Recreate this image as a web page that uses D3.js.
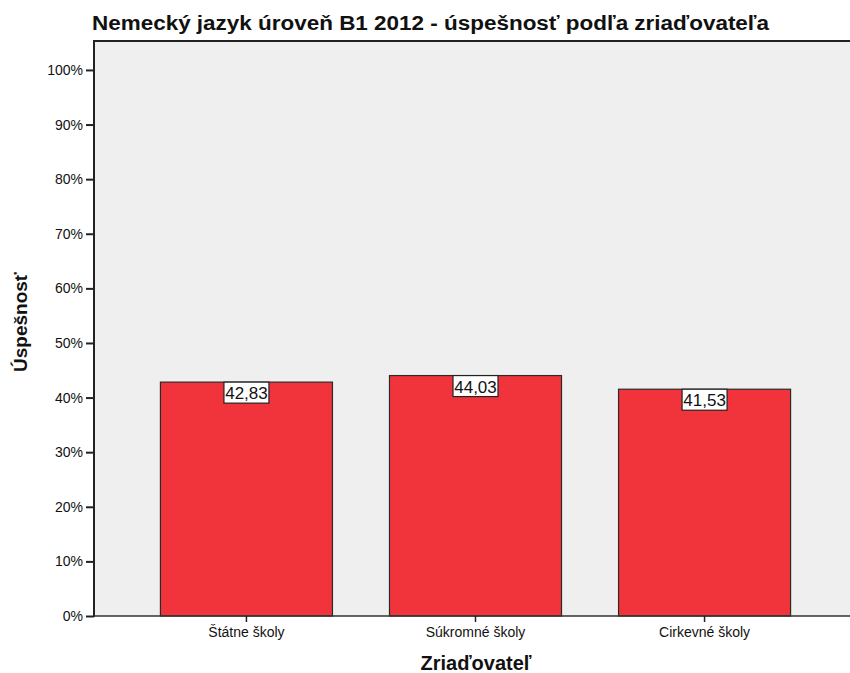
<!DOCTYPE html>
<html>
<head>
<meta charset="utf-8">
<script src="https://cdn.jsdelivr.net/npm/d3@7"></script>
<style>
  html, body { margin: 0; padding: 0; background: #fff; }
  svg { display: block; font-family: "Liberation Sans", Arial, sans-serif; }
</style>
</head>
<body>
<svg id="chart" width="850" height="673"></svg>
<script>
// Success rate by school founder
const categories = ["Štátne školy", "Súkromné školy", "Cirkevné školy"];
const values = [42.83, 44.03, 41.53];
const yTicks = [0, 10, 20, 30, 40, 50, 60, 70, 80, 90, 100];
const titleText = "Nemecký jazyk úroveň B1 2012 - úspešnosť podľa zriaďovateľa";
const yTitle = "Úspešnosť";
const xTitle = "Zriaďovateľ";

const svg = d3.select("#chart");
const W = 850, H = 673;
const plot = { left: 94, top: 41, right: 857, bottom: 616 };

// background panel
svg.append("rect")
  .attr("x", plot.left).attr("y", plot.top)
  .attr("width", W - plot.left).attr("height", plot.bottom - plot.top)
  .attr("fill", "#efefef");

const y = d3.scaleLinear().domain([0, 105.3]).range([plot.bottom, plot.top]);
const x = d3.scaleBand().domain(categories)
  .range([plot.left, plot.right])
  .paddingInner(0.249).paddingOuter(0.29);

// bars
svg.append("g").selectAll("rect").data(values).join("rect")
  .attr("x", (d, i) => x(categories[i]))
  .attr("y", d => y(d))
  .attr("width", x.bandwidth())
  .attr("height", d => plot.bottom - y(d))
  .attr("fill", "#f1343c")
  .attr("stroke", "#2a2a2a")
  .attr("stroke-width", 1.2);

// frame lines: top, left, bottom
svg.append("line").attr("x1", plot.left).attr("x2", W).attr("y1", plot.top).attr("y2", plot.top)
  .attr("stroke", "#222").attr("stroke-width", 2);
svg.append("line").attr("x1", plot.left).attr("x2", plot.left).attr("y1", plot.top - 1).attr("y2", plot.bottom + 1)
  .attr("stroke", "#222").attr("stroke-width", 2);
svg.append("line").attr("x1", plot.left).attr("x2", W).attr("y1", plot.bottom).attr("y2", plot.bottom)
  .attr("stroke", "#333").attr("stroke-width", 1.6);

// y axis
const yAxis = d3.axisLeft(y).tickValues(yTicks).tickSize(8).tickPadding(3)
  .tickFormat(d => d + "%");
const gy = svg.append("g").attr("transform", `translate(${plot.left},0)`).call(yAxis);
gy.select(".domain").remove();
gy.selectAll(".tick line").attr("stroke", "#222").attr("stroke-width", 2);
gy.selectAll(".tick text").attr("font-size", 14).attr("fill", "#111")
  .attr("font-family", "Liberation Sans, Arial, sans-serif");

// x axis
const xAxis = d3.axisBottom(x).tickSize(6).tickPadding(5);
const gx = svg.append("g").attr("transform", `translate(0,${plot.bottom})`).call(xAxis);
gx.select(".domain").remove();
gx.selectAll(".tick line").attr("stroke", "#222").attr("stroke-width", 1.5);
gx.selectAll(".tick text").attr("font-size", 14).attr("fill", "#111")
  .attr("font-family", "Liberation Sans, Arial, sans-serif");

// value labels
const labels = svg.append("g").selectAll("g").data(values).join("g")
  .attr("transform", (d, i) => `translate(${x(categories[i]) + x.bandwidth() / 2},${y(d)})`);
labels.append("rect")
  .attr("x", -22.5).attr("y", 0).attr("width", 45).attr("height", 21)
  .attr("fill", "#fff").attr("stroke", "#222").attr("stroke-width", 1.2);
labels.append("text")
  .attr("text-anchor", "middle").attr("y", 17)
  .attr("font-size", 17).attr("fill", "#111")
  .text(d => d.toFixed(2).replace(".", ","));

// titles
svg.append("text").attr("x", 92).attr("y", 30)
  .attr("font-size", 20).attr("font-weight", "bold").attr("fill", "#111")
  .attr("textLength", 677).attr("lengthAdjust", "spacingAndGlyphs")
  .text(titleText);
svg.append("text").attr("transform", `translate(27,322) rotate(-90)`)
  .attr("text-anchor", "middle").attr("font-size", 19).attr("font-weight", "bold").attr("fill", "#111")
  .text(yTitle);
svg.append("text").attr("x", 476).attr("y", 670)
  .attr("text-anchor", "middle").attr("font-size", 20).attr("font-weight", "bold").attr("fill", "#111")
  .text(xTitle);
</script>
</body>
</html>
